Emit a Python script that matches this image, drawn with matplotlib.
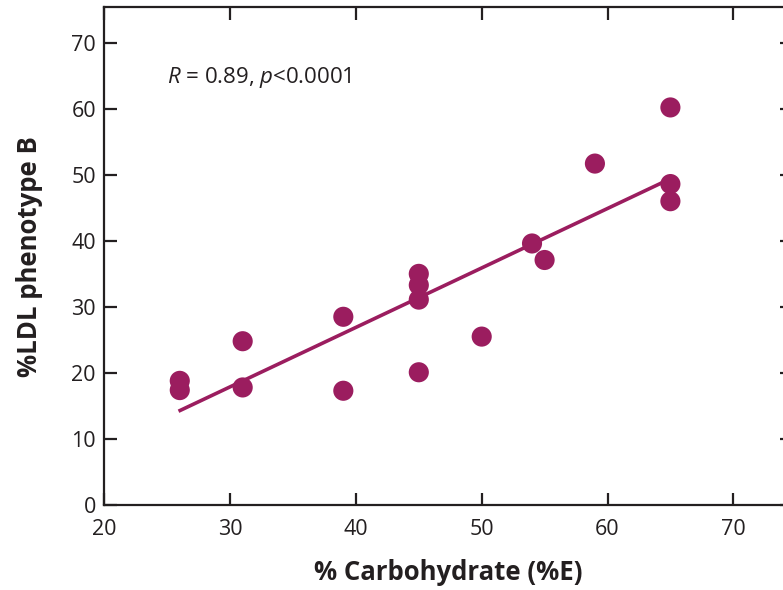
import matplotlib
matplotlib.use("Agg")
import matplotlib.pyplot as plt

# Data
carb = [26, 26, 31, 31, 39, 39, 45, 45, 45, 45, 50, 54, 55, 59, 65, 65, 65]
ldl_b = [18.8, 17.4, 24.8, 17.8, 28.5, 17.3, 35.0, 33.3, 31.1, 20.1, 25.5, 39.6, 37.1, 51.7, 60.2, 48.6, 46.0]

fit_x = [25.9, 65]
fit_y = [14.2, 49.4]

x_ticks = [20, 30, 40, 50, 60, 70]
y_ticks = [0, 10, 20, 30, 40, 50, 60, 70]

stat_text = r"$R$ = 0.89, $p$<0.0001"

plt.rcParams['font.family'] = ['Open Sans', 'DejaVu Sans']
plt.rcParams['mathtext.fontset'] = 'custom'
plt.rcParams['mathtext.rm'] = 'Open Sans'
plt.rcParams['mathtext.it'] = 'Open Sans:italic'

color = '#9b1d5f'
axcol = '#231f20'

fig = plt.figure(figsize=(7.83, 5.90), dpi=100)
W, H = 783, 590
left_px, right_px, top_px, bottom_px = 104.3, 792, 7.3, 505
ax = fig.add_axes([left_px / W, (H - bottom_px) / H, (right_px - left_px) / W, (bottom_px - top_px) / H])

ax.plot(fit_x, fit_y, color=color, lw=2.6, solid_capstyle='butt', zorder=2)
ax.scatter(carb, ldl_b, s=210, color=color, edgecolors='none', zorder=3)

ax.set_xlim(20, 20 + (right_px - left_px) / 12.58)
ax.set_ylim(0, (bottom_px - top_px) / 6.604)
ax.set_xticks(x_ticks)
ax.set_yticks(y_ticks)

for s in ax.spines.values():
    s.set_linewidth(1.6)
    s.set_color(axcol)

ax.tick_params(direction='in', length=9, width=1.6, color=axcol,
               top=True, right=True, labelsize=15.5, labelcolor=axcol)
ax.tick_params(axis='x', pad=10)
ax.tick_params(axis='y', pad=6)

ax.set_xlabel('% Carbohydrate (%E)', fontsize=18.5, fontweight='bold', color=axcol, labelpad=14)
ax.set_ylabel('%LDL phenotype B', fontsize=18.5, fontweight='bold', color=axcol, labelpad=20)

ax.text(24.95, 64.7, stat_text, fontsize=16, color=axcol, va='center', ha='left')

fig.savefig('out.png', dpi=100)
